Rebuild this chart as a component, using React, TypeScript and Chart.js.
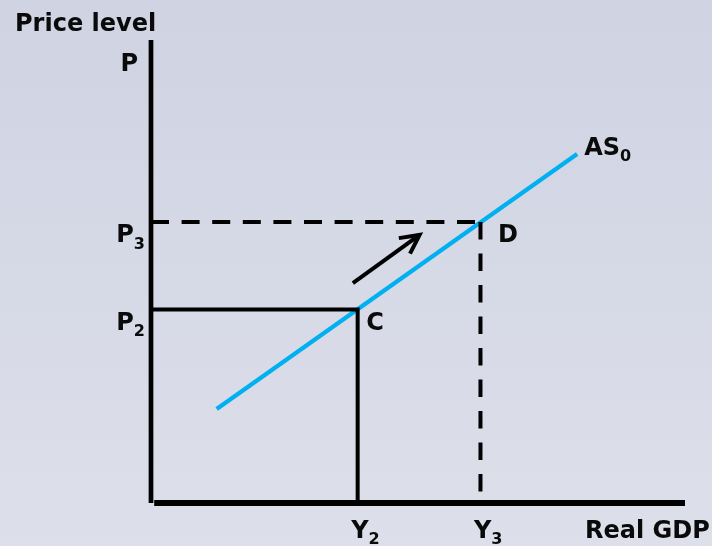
import React, { useEffect, useRef } from "react";
import { Chart, registerables } from "chart.js";

Chart.register(...registerables);

// ---- data (abstract economic units) ----
const X_MIN = 0;
const X_MAX = 10;
const Y_MIN = 0;
const Y_MAX = 10;

const Y2 = 3.87;
const Y3 = 6.17;
const P2 = 4.18;
const P3 = 6.07;

const asCurveX = [1.23, 7.98];
const asCurveY = [2.03, 7.54];

const arrowX = [3.78, 5.03];
const arrowY = [4.75, 5.79];

const xTickLabels = [
  { main: "Y", sub: "2", value: Y2 },
  { main: "Y", sub: "3", value: Y3 },
];
const yTickLabels = [
  { main: "P", sub: "2", value: P2 },
  { main: "P", sub: "3", value: P3 },
];
const pointLabels = [
  { main: "C", x: Y2, y: P2 },
  { main: "D", x: Y3, y: P3 },
];
const curveLabel = { main: "AS", sub: "0" };
const yAxisTitle = "Price level";
const yAxisSymbol = "P";
const xAxisTitle = "Real GDP";

// ---- styles ----
const FONT_MAIN = "bold 24px 'DejaVu Sans', Verdana, sans-serif";
const FONT_SUB = "bold 16px 'DejaVu Sans', Verdana, sans-serif";
const TEXT_COLOR = "#0a0a0a";
const BLUE = "#00b0f0";
const pointLabelOffsets = [
  { dx: 8.5, dy: 20.5 },
  { dx: 17.5, dy: 20 },
];

function drawSubText(
  ctx: CanvasRenderingContext2D,
  main: string,
  sub: string,
  x: number,
  y: number,
  align: "left" | "right"
) {
  ctx.font = FONT_MAIN;
  const wm = ctx.measureText(main).width;
  ctx.font = FONT_SUB;
  const ws = sub ? ctx.measureText(sub).width : 0;
  const left = align === "right" ? x - wm - ws : x;
  ctx.textAlign = "left";
  ctx.textBaseline = "alphabetic";
  ctx.fillStyle = TEXT_COLOR;
  ctx.font = FONT_MAIN;
  ctx.fillText(main, left, y);
  if (sub) {
    ctx.font = FONT_SUB;
    ctx.fillText(sub, left + wm, y + 6.5);
  }
}

const backgroundPlugin = {
  id: "bgGradient",
  beforeDraw(chart: any) {
    const { ctx, width, height } = chart;
    const g = ctx.createLinearGradient(0, 0, 0, height);
    g.addColorStop(0, "#cfd3e2");
    g.addColorStop(1, "#dddfea");
    ctx.save();
    ctx.fillStyle = g;
    ctx.fillRect(0, 0, width, height);
    ctx.restore();
  },
};

const annotationPlugin = {
  id: "annotations",
  afterDraw(chart: any) {
    const { ctx, chartArea } = chart;
    const xs = chart.scales.x;
    const ys = chart.scales.y;
    ctx.save();

    // arrow head
    const tx = xs.getPixelForValue(arrowX[1]);
    const ty = ys.getPixelForValue(arrowY[1]);
    const sx = xs.getPixelForValue(arrowX[0]);
    const sy = ys.getPixelForValue(arrowY[0]);
    const ang = Math.atan2(ty - sy, tx - sx);
    const len = 21;
    const spread = (27 * Math.PI) / 180;
    ctx.strokeStyle = "#000";
    ctx.lineWidth = 4;
    ctx.lineCap = "butt";
    ctx.lineJoin = "miter";
    ctx.beginPath();
    ctx.moveTo(tx - len * Math.cos(ang - spread), ty - len * Math.sin(ang - spread));
    ctx.lineTo(tx, ty);
    ctx.lineTo(tx - len * Math.cos(ang + spread), ty - len * Math.sin(ang + spread));
    ctx.stroke();

    // axis titles
    ctx.fillStyle = TEXT_COLOR;
    ctx.font = FONT_MAIN;
    ctx.textAlign = "left";
    ctx.textBaseline = "alphabetic";
    ctx.fillText(yAxisTitle, chartArea.left - 136, chartArea.top - 9);
    ctx.textAlign = "right";
    ctx.fillText(yAxisSymbol, chartArea.left - 13, chartArea.top + 31);
    ctx.textAlign = "left";
    ctx.fillText(xAxisTitle, chartArea.right - 100, chartArea.bottom + 34.5);

    // tick labels
    yTickLabels.forEach((t) => {
      drawSubText(ctx, t.main, t.sub, chartArea.left - 6, ys.getPixelForValue(t.value) + 20.5, "right");
    });
    xTickLabels.forEach((t) => {
      drawSubText(ctx, t.main, t.sub, xs.getPixelForValue(t.value) - 6.5, chartArea.bottom + 34.5, "left");
    });

    // point labels
    pointLabels.forEach((p, i) => {
      const o = pointLabelOffsets[i];
      drawSubText(ctx, p.main, "", xs.getPixelForValue(p.x) + o.dx, ys.getPixelForValue(p.y) + o.dy, "left");
    });

    // curve label
    drawSubText(
      ctx,
      curveLabel.main,
      curveLabel.sub,
      xs.getPixelForValue(asCurveX[1]) + 7,
      ys.getPixelForValue(asCurveY[1]) + 1,
      "left"
    );

    ctx.restore();
  },
};

function line(points: { x: number; y: number }[], color: string, width: number, dash: number[] = []) {
  return {
    data: points,
    showLine: true,
    borderColor: color,
    backgroundColor: color,
    borderWidth: width,
    borderDash: dash,
    borderCapStyle: "butt",
    borderJoinStyle: "miter",
    pointRadius: 0,
    pointHoverRadius: 0,
    tension: 0,
    clip: false,
    fill: false,
  };
}

export default function App() {
  const ref = useRef<HTMLCanvasElement | null>(null);

  useEffect(() => {
    document.body.style.margin = "0";
    const canvas = ref.current;
    if (!canvas) return;

    const datasets: any[] = [
      // y axis
      line([{ x: X_MIN, y: Y_MIN }, { x: X_MIN, y: Y_MAX }], "#000", 4.7),
      // x axis
      line([{ x: X_MIN + 0.06, y: Y_MIN }, { x: X_MAX, y: Y_MIN }], "#000", 5.8),
      // solid P2 / Y2 guide
      line([{ x: X_MIN, y: P2 }, { x: Y2, y: P2 }, { x: Y2, y: Y_MIN }], "#000", 4),
      // dashed P3 guide
      line([{ x: X_MIN, y: P3 }, { x: Y3, y: P3 }], "#000", 4, [18, 12.6]),
      // dashed Y3 guide
      line([{ x: Y3, y: P3 }, { x: Y3, y: Y_MIN }], "#000", 4, [17.5, 14]),
      // AS0 curve
      line(asCurveX.map((x, i) => ({ x, y: asCurveY[i] })), BLUE, 4.3),
      // movement arrow shaft
      line(arrowX.map((x, i) => ({ x, y: arrowY[i] })), "#000", 4),
    ];

    const chart = new Chart(canvas, {
      type: "scatter",
      data: { datasets },
      options: {
        animation: false,
        responsive: false,
        devicePixelRatio: 1,
        events: [],
        layout: { padding: { left: 151, right: 27, top: 40, bottom: 43 } },
        plugins: {
          legend: { display: false },
          tooltip: { enabled: false },
        },
        scales: {
          x: { type: "linear", min: X_MIN, max: X_MAX, display: false },
          y: { type: "linear", min: Y_MIN, max: Y_MAX, display: false },
        },
      } as any,
      plugins: [backgroundPlugin, annotationPlugin],
    });

    return () => chart.destroy();
  }, []);

  return (
    <canvas
      ref={ref}
      width={712}
      height={546}
      style={{ display: "block", width: 712, height: 546 }}
    />
  );
}
